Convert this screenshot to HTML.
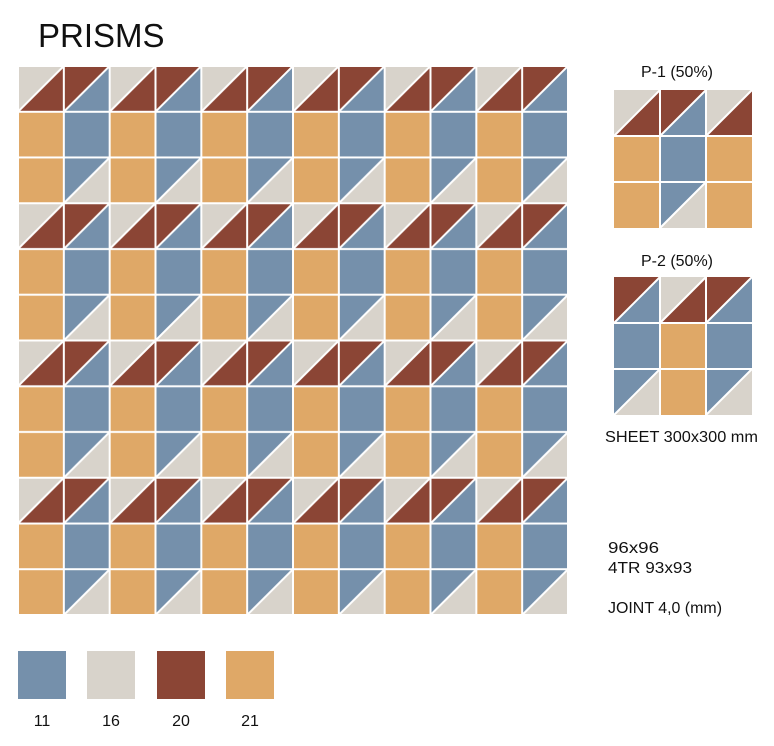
<!DOCTYPE html>
<html><head><meta charset="utf-8"><style>
html,body{margin:0;padding:0;background:#fff;}
body{width:774px;height:746px;overflow:hidden;position:relative;font-family:"Liberation Sans",sans-serif;}
</style></head><body>
<svg width="774" height="746" xmlns="http://www.w3.org/2000/svg" style="position:absolute;left:0;top:0">
<defs>
<pattern id="p" patternUnits="userSpaceOnUse" x="18" y="66" width="91.667" height="137.25">
  <rect x="0" y="0" width="45.83" height="45.75" fill="#d8d3cb"/>
  <polygon points="45.83,0 45.83,45.75 0,45.75" fill="#8b4535"/>
  <rect x="45.83" y="0" width="45.83" height="45.75" fill="#8b4535"/>
  <polygon points="91.67,0 91.67,45.75 45.83,45.75" fill="#7590ab"/>
  <rect x="0" y="45.75" width="45.83" height="91.5" fill="#dfa867"/>
  <rect x="45.83" y="45.75" width="45.83" height="45.75" fill="#7590ab"/>
  <rect x="45.83" y="91.5" width="45.83" height="45.75" fill="#7590ab"/>
  <polygon points="91.67,91.5 91.67,137.25 45.83,137.25" fill="#d8d3cb"/>
  <g stroke="#fff" stroke-width="2">
    <line x1="0" y1="0" x2="0" y2="137.25"/><line x1="45.83" y1="0" x2="45.83" y2="137.25"/><line x1="91.67" y1="0" x2="91.67" y2="137.25"/>
    <line x1="0" y1="0" x2="91.67" y2="0"/><line x1="0" y1="45.75" x2="91.67" y2="45.75"/><line x1="0" y1="91.5" x2="91.67" y2="91.5"/><line x1="0" y1="137.25" x2="91.67" y2="137.25"/>
    <line x1="0" y1="45.75" x2="45.83" y2="0"/><line x1="45.83" y1="45.75" x2="91.67" y2="0"/><line x1="45.83" y1="137.25" x2="91.67" y2="91.5"/>
  </g>
</pattern>
</defs>
<text x="38" y="47" font-size="33" fill="#111" font-family="Liberation Sans">PRISMS</text>
<rect x="18" y="66" width="550" height="549" fill="url(#p)"/>

<!-- P-1 -->
<text x="677" y="77" font-size="16" text-anchor="middle" fill="#111">P-1 (50%)</text>
<g transform="translate(614,90)">
  <rect x="0" y="0" width="46" height="46" fill="#d8d3cb"/><polygon points="46,0 46,46 0,46" fill="#8b4535"/>
  <rect x="46" y="0" width="46" height="46" fill="#8b4535"/><polygon points="92,0 92,46 46,46" fill="#7590ab"/>
  <rect x="92" y="0" width="46" height="46" fill="#d8d3cb"/><polygon points="138,0 138,46 92,46" fill="#8b4535"/>
  <rect x="0" y="46" width="46" height="92" fill="#dfa867"/>
  <rect x="46" y="46" width="46" height="92" fill="#7590ab"/><polygon points="92,92 92,138 46,138" fill="#d8d3cb"/>
  <rect x="92" y="46" width="46" height="92" fill="#dfa867"/>
  <g stroke="#fff" stroke-width="2">
    <line x1="46" y1="0" x2="46" y2="138"/><line x1="92" y1="0" x2="92" y2="138"/>
    <line x1="0" y1="46" x2="138" y2="46"/><line x1="0" y1="92" x2="138" y2="92"/>
    <line x1="0" y1="46" x2="46" y2="0"/><line x1="46" y1="46" x2="92" y2="0"/><line x1="92" y1="46" x2="138" y2="0"/><line x1="46" y1="138" x2="92" y2="92"/>
  </g>
</g>

<!-- P-2 -->
<text x="677" y="266" font-size="16" text-anchor="middle" fill="#111">P-2 (50%)</text>
<g transform="translate(614,277)">
  <rect x="0" y="0" width="46" height="46" fill="#8b4535"/><polygon points="46,0 46,46 0,46" fill="#7590ab"/>
  <rect x="46" y="0" width="46" height="46" fill="#d8d3cb"/><polygon points="92,0 92,46 46,46" fill="#8b4535"/>
  <rect x="92" y="0" width="46" height="46" fill="#8b4535"/><polygon points="138,0 138,46 92,46" fill="#7590ab"/>
  <rect x="0" y="46" width="46" height="92" fill="#7590ab"/><polygon points="46,92 46,138 0,138" fill="#d8d3cb"/>
  <rect x="46" y="46" width="46" height="92" fill="#dfa867"/>
  <rect x="92" y="46" width="46" height="92" fill="#7590ab"/><polygon points="138,92 138,138 92,138" fill="#d8d3cb"/>
  <g stroke="#fff" stroke-width="2">
    <line x1="46" y1="0" x2="46" y2="138"/><line x1="92" y1="0" x2="92" y2="138"/>
    <line x1="0" y1="46" x2="138" y2="46"/><line x1="0" y1="92" x2="138" y2="92"/>
    <line x1="0" y1="46" x2="46" y2="0"/><line x1="46" y1="46" x2="92" y2="0"/><line x1="92" y1="46" x2="138" y2="0"/>
    <line x1="0" y1="138" x2="46" y2="92"/><line x1="92" y1="138" x2="138" y2="92"/>
  </g>
</g>

<g font-size="16" fill="#111">
<text x="605" y="442" textLength="153" lengthAdjust="spacingAndGlyphs">SHEET 300x300 mm</text>
<text x="608" y="553" textLength="51" lengthAdjust="spacingAndGlyphs">96x96</text>
<text x="608" y="573" textLength="84" lengthAdjust="spacingAndGlyphs">4TR 93x93</text>
<text x="608" y="613" textLength="114" lengthAdjust="spacingAndGlyphs">JOINT 4,0 (mm)</text>
</g>

<rect x="18" y="651" width="48" height="48" fill="#7590ab"/>
<rect x="87" y="651" width="48" height="48" fill="#d8d3cb"/>
<rect x="157" y="651" width="48" height="48" fill="#8b4535"/>
<rect x="226" y="651" width="48" height="48" fill="#dfa867"/>
<g font-size="16" fill="#111" text-anchor="middle">
<text x="42" y="726">11</text><text x="111" y="726">16</text><text x="181" y="726">20</text><text x="250" y="726">21</text>
</g>
</svg>
</body></html>
